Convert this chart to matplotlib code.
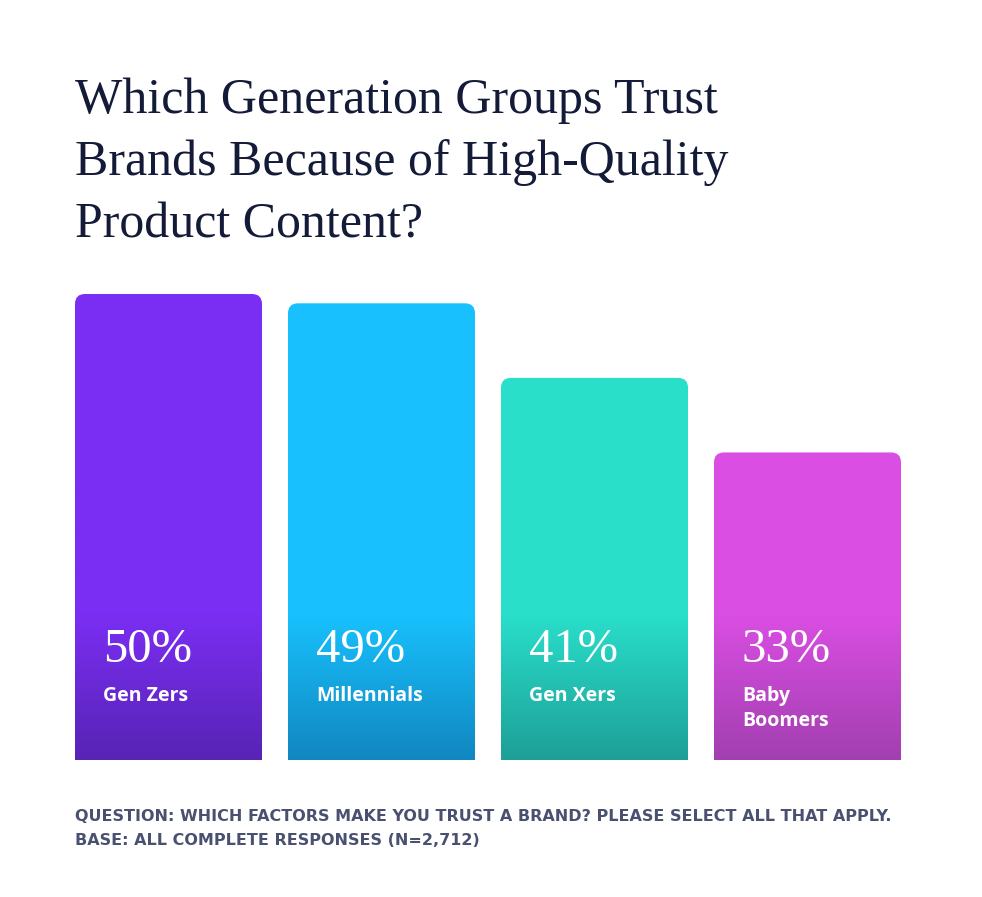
import numpy as np
import matplotlib
matplotlib.use("Agg")
import matplotlib.pyplot as plt
from matplotlib.patches import FancyBboxPatch
from matplotlib.colors import to_rgb

# data
groups = ["Gen Zers", "Millennials", "Gen Xers", "Baby\nBoomers"]
values = [50, 49, 41, 33]
top_colors = ["#7B2EF3", "#18C1FD", "#29DFCA", "#DA4EE3"]
bottom_colors = ["#5724B5", "#1187C0", "#1E9F98", "#A23FB0"]

title_lines = ["Which Generation Groups Trust",
               "Brands Because of High-Quality",
               "Product Content?"]
footer_lines = ["QUESTION: WHICH FACTORS MAKE YOU TRUST A BRAND? PLEASE SELECT ALL THAT APPLY.",
                "BASE: ALL COMPLETE RESPONSES (N=2,712)"]

W, H = 982, 897
fig = plt.figure(figsize=(W / 100, H / 100), dpi=100)
fig.patch.set_facecolor("white")

# axes placed in pixel terms: bars from x=75..901, baseline at y=760
bar_w = 187 / 213
left, right = 75, 901
bottom_px, top_px = 760, 294
ax = fig.add_axes([left / W, 1 - bottom_px / H, (right - left) / W, (bottom_px - top_px) / H])
ax.set_xlim(-bar_w / 2, len(values) - 1 + bar_w / 2)
ax.set_ylim(0, 50)
ax.axis("off")

px_per_unit = (bottom_px - top_px) / 50
grad_top = (bottom_px - 615) / px_per_unit  # gradient starts ~145px above baseline
rx = 10 / 213
ry = 10 / px_per_unit

for i, (v, c0, c1) in enumerate(zip(values, top_colors, bottom_colors)):
    x0 = i - bar_w / 2
    n = 300
    ys = np.linspace(v, 0, n)
    t = np.clip((grad_top - ys) / grad_top, 0, 1)
    a, b = np.array(to_rgb(c0)), np.array(to_rgb(c1))
    img = (a[None, :] * (1 - t[:, None]) + b[None, :] * t[:, None])[:, None, :]
    im = ax.imshow(img, extent=(x0, x0 + bar_w, 0, v), aspect="auto",
                   interpolation="bilinear", zorder=2)
    clip = FancyBboxPatch((x0, -3), bar_w, v + 3,
                          boxstyle=f"round,pad=0,rounding_size={rx}",
                          mutation_aspect=ry / rx, transform=ax.transData,
                          facecolor="none", edgecolor="none")
    ax.add_patch(clip)
    im.set_clip_path(clip)

    tx = x0 + 28 / 213
    ax.text(tx, (bottom_px - 662) / px_per_unit, f"{v}%", color="white",
            fontsize=35, family="Liberation Serif", va="baseline", ha="left", zorder=3)
    for k, line in enumerate(groups[i].split("\n")):
        ax.text(tx, (bottom_px - 701 - 25 * k) / px_per_unit, line, color="white",
                fontsize=14, family="Open Sans", weight="bold", va="baseline",
                ha="left", zorder=3)

for k, line in enumerate(title_lines):
    fig.text(75 / W, 1 - (113 + 62.5 * k) / H, line, ha="left", va="baseline",
             fontsize=36, family="Liberation Serif", color="#141B38")

for k, line in enumerate(footer_lines):
    fig.text(75 / W, 1 - (821 + 24 * k) / H, line, ha="left", va="baseline",
             fontsize=11.5, family="DejaVu Sans", weight="bold", color="#4A5170")

fig.savefig("out.png", dpi=100, facecolor="white")
